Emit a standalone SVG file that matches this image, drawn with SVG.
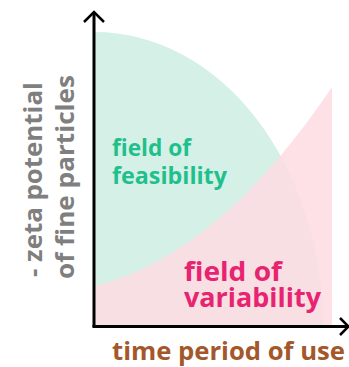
<svg xmlns="http://www.w3.org/2000/svg" width="349" height="367" viewBox="0 0 349 367">
<style>
text{font-family:"Open Sans","Noto Sans","Liberation Sans",sans-serif;font-weight:bold}
.axis{fill:none;stroke:#000;stroke-width:3;stroke-linecap:butt}
.head{fill:none;stroke:#000;stroke-width:2.5;stroke-linejoin:miter}
.green{fill:#1fc08c}
.pink{fill:#e8236f}
.ylab{fill:#7f7f7f;font-size:25px}
.xlab{fill:#a3572a;font-size:25.5px}
</style>
<rect width="349" height="367" fill="#fff"/>
<g id="fields">
<path id="feasibility-area" d="M95,327 L95,32 A228,295 0 0 1 323,327 Z" fill="#d5f0e7"/>
<path id="variability-area" d="M95,327 L95,286 Q219,255 332,87 L332,327 Z" fill="#fddce3" fill-opacity="0.85"/>
</g>
<g id="axes">
<line class="axis" x1="94" y1="13" x2="94" y2="327"/>
<line class="axis" x1="92.5" y1="326.5" x2="347" y2="326.5"/>
<polyline class="head" points="84,22 94,12 104,22"/>
<polyline class="head" points="340,318 348.5,326.5 340,335"/>
</g>
<g id="field-labels">
<text class="green" font-size="23" x="112" y="156" textLength="79" lengthAdjust="spacingAndGlyphs">field of</text>
<text class="green" font-size="23" x="112" y="184" textLength="115" lengthAdjust="spacingAndGlyphs">feasibility</text>
<text class="pink" font-size="27" x="184" y="281" textLength="98" lengthAdjust="spacingAndGlyphs">field of</text>
<text class="pink" font-size="27" x="184" y="307" textLength="137" lengthAdjust="spacingAndGlyphs">variability</text>
</g>
<g id="axis-labels">
<text class="ylab" transform="translate(42,277) rotate(-90)" textLength="195" lengthAdjust="spacingAndGlyphs">- zeta potential</text>
<text class="ylab" transform="translate(74,279) rotate(-90)" textLength="204" lengthAdjust="spacingAndGlyphs">of fine particles</text>
<text class="xlab" x="112" y="360" textLength="233" lengthAdjust="spacingAndGlyphs">time period of use</text>
</g>
</svg>
